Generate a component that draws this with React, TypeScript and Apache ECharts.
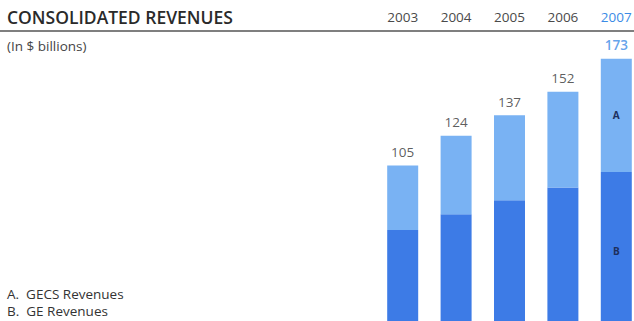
import React, { useEffect, useRef } from "react";
import * as echarts from "echarts";

const years = ["2003", "2004", "2005", "2006", "2007"];
const gecsRevenues = [41, 50, 54, 61, 72];
const geRevenues = [64, 74, 83, 91, 101];
const totals = [105, 124, 137, 152, 173];
const legendLines = ["A.  GECS Revenues", "B.  GE Revenues"];

const LIGHT = "#79b2f3";
const DARK = "#3d7be6";
const HIGHLIGHT = "#3b8be6";
const FONT = "Open Sans";

export default function App() {
  const ref = useRef<HTMLDivElement>(null);
  useEffect(() => {
    if (!ref.current) return;
    const chart = echarts.init(ref.current, undefined, { renderer: "svg" });
    const last = years.length - 1;
    const txt = (text: string, x: number, y: number, font: string, fill: string) => ({
      type: "text",
      x,
      y,
      style: { text, font, fill, verticalAlign: "middle", align: "left" },
    });
    chart.setOption({
      animation: false,
      backgroundColor: "#ffffff",
      textStyle: { fontFamily: FONT },
      grid: { left: 376, right: -9, top: 40, bottom: -9.5, outerBoundsMode: "none" },
      xAxis: {
        type: "category",
        position: "top",
        data: years,
        axisLine: { show: false },
        axisTick: { show: false },
        axisLabel: {
          margin: 16,
          fontSize: 13.5,
          fontFamily: FONT,
          color: (_v: string, i: number) => (i === last ? HIGHLIGHT : "#4a4a4a"),
        },
      },
      yAxis: {
        type: "value",
        min: 0,
        max: 185,
        show: false,
        splitLine: { show: false },
      },
      series: [
        {
          name: "GE Revenues",
          type: "bar",
          stack: "total",
          barWidth: 31,
          itemStyle: { color: DARK },
          data: geRevenues.map((v, i) =>
            i === last
              ? {
                  value: v,
                  label: {
                    show: true,
                    position: "inside",
                    formatter: "B",
                    fontSize: 10,
                    fontWeight: "bold",
                    color: "#1d2f5c",
                  },
                }
              : v
          ),
        },
        {
          name: "GECS Revenues",
          type: "bar",
          stack: "total",
          barWidth: 31,
          itemStyle: { color: LIGHT },
          data: gecsRevenues.map((v, i) =>
            i === last
              ? {
                  value: v,
                  label: {
                    show: true,
                    position: "inside",
                    formatter: "A",
                    fontSize: 10,
                    fontWeight: "bold",
                    color: "#1d2f5c",
                  },
                }
              : v
          ),
        },
        {
          name: "Total",
          type: "scatter",
          symbol: "rect",
          symbolSize: 1,
          itemStyle: { color: "transparent" },
          silent: true,
          data: totals.map((v, i) => ({
            value: v,
            label: {
              show: true,
              position: "top",
              distance: 6,
              fontSize: 13.5,
              fontFamily: FONT,
              color: i === last ? HIGHLIGHT : "#333333",
              fontWeight: i === last ? 600 : "normal",
              formatter: String(v),
            },
          })),
        },
      ],
      graphic: [
        txt("CONSOLIDATED REVENUES", 7, 17, `600 17.5px "${FONT}"`, "#2a2a2a"),
        {
          type: "line",
          shape: { x1: 0, y1: 31, x2: 634, y2: 31 },
          style: { stroke: "#555555", lineWidth: 1.5 },
        },
        txt("(In $ billions)", 7, 46, `13.5px "${FONT}"`, "#444444"),
        txt(legendLines[0], 7, 294, `13.5px "${FONT}"`, "#333333"),
        txt(legendLines[1], 7, 311, `13.5px "${FONT}"`, "#333333"),
      ],
    });
    return () => chart.dispose();
  }, []);
  return (
    <div
      ref={ref}
      style={{ position: "fixed", left: 0, top: 0, width: 634, height: 321 }}
    />
  );
}
